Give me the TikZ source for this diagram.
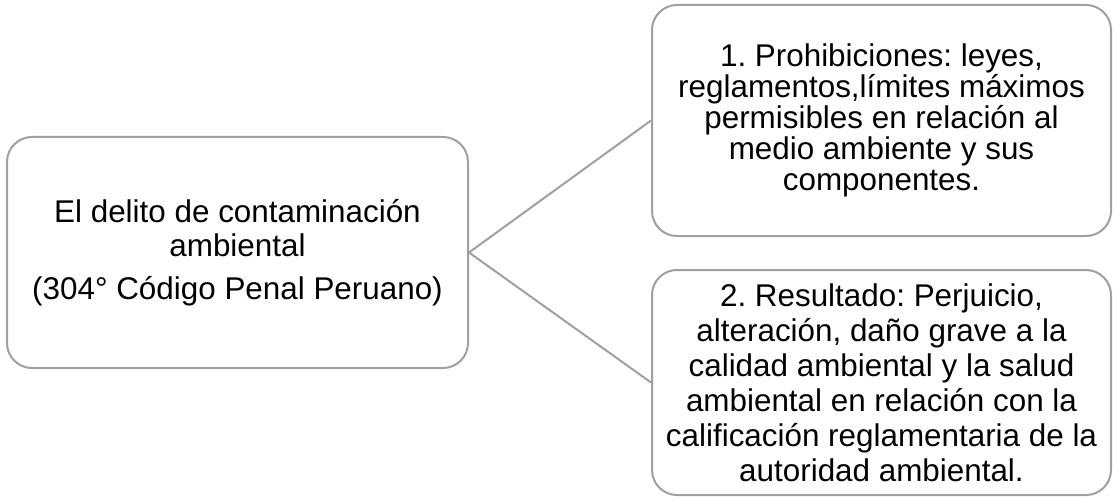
\documentclass[tikz,border=0pt]{standalone}
\usepackage{fontspec}
\setmainfont{Liberation Sans}
\definecolor{boxgray}{RGB}{160,160,160}
\begin{document}
\frenchspacing
\begin{tikzpicture}[x=1pt,y=-1pt,
  box/.style={draw=boxgray, line width=2pt, rounded corners=25pt, inner sep=0pt, align=center, fill=white},
  link/.style={draw=boxgray, line width=2pt}]
\useasboundingbox (0,0) rectangle (1116,497);
\node[box, minimum width=461pt, minimum height=231pt, font=\fontsize{31.4}{34}\selectfont] (main) at (237.5,252.5)
  {El delito de contaminación\\ambiental\\[9pt](304° Código Penal Peruano)};
\node[box, minimum width=459pt, minimum height=231pt, font=\fontsize{31.4}{31}\selectfont] (top) at (881.5,120.5)
  {1. Prohibiciones: leyes,\\reglamentos,límites máximos\\permisibles en relación al\\medio ambiente y sus\\componentes.};
\node[box, minimum width=459pt, minimum height=225pt, font=\fontsize{31.4}{35}\selectfont] (bottom) at (881.5,382.5)
  {2. Resultado: Perjuicio,\\alteración, daño grave a la\\calidad ambiental y la salud\\ambiental en relación con la\\calificación reglamentaria de la\\autoridad ambiental.};
\draw[link] (main.east) -- (top.west);
\draw[link] (main.east) -- (bottom.west);
\end{tikzpicture}
\end{document}
